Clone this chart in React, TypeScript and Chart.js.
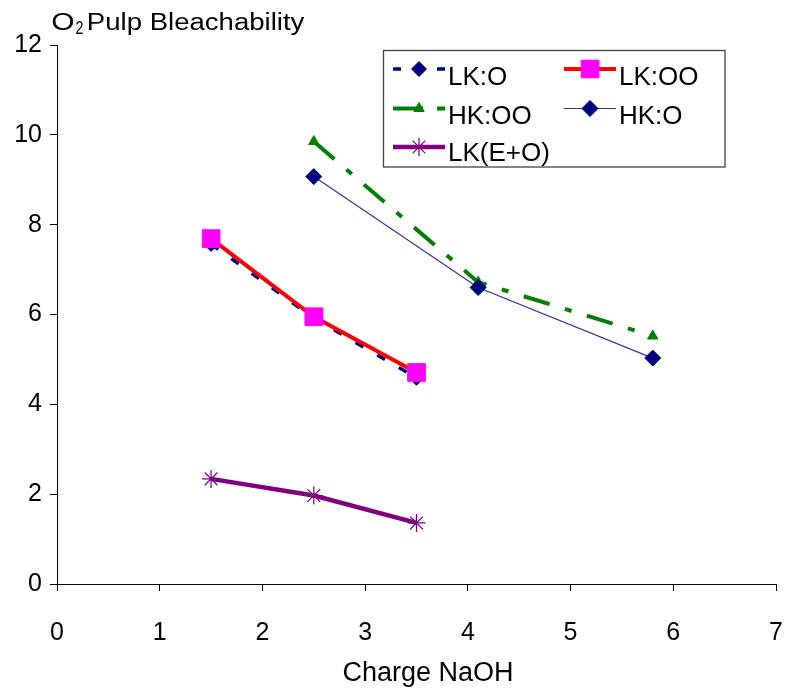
import React, { useEffect, useRef } from 'react';
import { Chart, registerables } from 'chart.js';

Chart.register(...registerables);

const FONT = "'Liberation Sans', Arial, Helvetica, sans-serif";

// ---- data ----
const xLK = [1.5, 2.5, 3.5];
const xHK = [2.5, 4.1, 5.8];
const lkO = [7.57, 5.92, 4.59];
const lkOO = [7.69, 5.95, 4.71];
const hkOO = [9.85, 6.72, 5.52];
const hkO = [9.07, 6.6, 5.03];
const lkEO = [2.34, 1.97, 1.36];
const seriesLabels = ['LK:O', 'LK:OO', 'HK:OO', 'HK:O', 'LK(E+O)'];
const xTicks = [0, 1, 2, 3, 4, 5, 6, 7];
const yTicks = [0, 2, 4, 6, 8, 10, 12];
const titleMain = 'O';
const titleSub = '2';
const titleRest = 'Pulp Bleachability';
const xTitle = 'Charge NaOH';

const pts = (xs: number[], ys: number[]) => xs.map((x, i) => ({ x, y: ys[i] }));

function drawMarker(ctx: CanvasRenderingContext2D, style: string, x: number, y: number, r: number, fill: string, stroke: string, lw: number) {
  ctx.save();
  ctx.fillStyle = fill;
  ctx.strokeStyle = stroke;
  ctx.lineWidth = lw;
  ctx.setLineDash([]);
  ctx.beginPath();
  if (style === 'rectRot') {
    ctx.moveTo(x - r, y);
    ctx.lineTo(x, y - r);
    ctx.lineTo(x + r, y);
    ctx.lineTo(x, y + r);
    ctx.closePath();
    ctx.fill();
    ctx.stroke();
  } else if (style === 'rect') {
    const s = r * Math.SQRT1_2;
    ctx.rect(x - s, y - s, 2 * s, 2 * s);
    ctx.fill();
    ctx.stroke();
  } else if (style === 'triangle') {
    let rad = 0;
    ctx.moveTo(x + Math.sin(rad) * r, y - Math.cos(rad) * r);
    rad += (2 * Math.PI) / 3;
    ctx.lineTo(x + Math.sin(rad) * r, y - Math.cos(rad) * r);
    rad += (2 * Math.PI) / 3;
    ctx.lineTo(x + Math.sin(rad) * r, y - Math.cos(rad) * r);
    ctx.closePath();
    ctx.fill();
    ctx.stroke();
  } else if (style === 'star') {
    for (let k = 0; k < 4; k++) {
      const a = (k * Math.PI) / 4;
      ctx.moveTo(x - Math.cos(a) * r, y - Math.sin(a) * r);
      ctx.lineTo(x + Math.cos(a) * r, y + Math.sin(a) * r);
    }
    ctx.stroke();
  }
  ctx.restore();
}

function fitText(ctx: CanvasRenderingContext2D, text: string, left: number, right: number, baseline: number) {
  const m = ctx.measureText(text);
  const w = m.actualBoundingBoxLeft + m.actualBoundingBoxRight;
  const sx = (right - left) / w;
  ctx.save();
  ctx.translate(left, baseline);
  ctx.scale(sx, 1);
  ctx.textAlign = 'left';
  ctx.textBaseline = 'alphabetic';
  ctx.fillText(text, m.actualBoundingBoxLeft, 0);
  ctx.restore();
}

const AREA_RIGHT = 776;

const areaPlugin = {
  id: 'areaPlugin',
  afterLayout(chart: any) {
    const xs = chart.scales.x;
    const ca = chart.chartArea;
    ca.right = AREA_RIGHT;
    ca.width = AREA_RIGHT - ca.left;
    xs.right = AREA_RIGHT;
    xs.width = AREA_RIGHT - xs.left;
    xs.configure();
  },
};

const titlePlugin = {
  id: 'titlePlugin',
  afterDraw(chart: any) {
    const ctx = chart.ctx as CanvasRenderingContext2D;
    ctx.save();
    ctx.fillStyle = '#000';
    ctx.font = `23px ${FONT}`;
    fitText(ctx, titleMain, 52.5, 73.3, 29.5);
    fitText(ctx, titleRest, 88, 305, 29.5);
    ctx.font = `19px ${FONT}`;
    fitText(ctx, titleSub, 75.5, 83, 33.5);
    ctx.font = `27px ${FONT}`;
    ctx.textAlign = 'center';
    ctx.textBaseline = 'alphabetic';
    ctx.fillText(xTitle, 428, 680.5);
    ctx.restore();
  },
};

const legendPlugin = {
  id: 'customLegend',
  afterDraw(chart: any) {
    const ctx = chart.ctx as CanvasRenderingContext2D;
    const box = { l: 383.5, t: 50.5, r: 725, b: 167 };
    ctx.save();
    ctx.fillStyle = '#fff';
    ctx.fillRect(box.l, box.t, box.r - box.l, box.b - box.t);
    ctx.strokeStyle = '#444';
    ctx.lineWidth = 1.3;
    ctx.strokeRect(box.l, box.t, box.r - box.l, box.b - box.t);
    const colX = [393, 564];
    const rowY = [69, 108.5, 147];
    const textBase = [85, 123.5, 160.5];
    const sampleLen = 52;
    chart.data.datasets.forEach((ds: any, i: number) => {
      const col = i % 2;
      const row = Math.floor(i / 2);
      const x0 = colX[col];
      const y = rowY[row];
      ctx.save();
      ctx.strokeStyle = ds.borderColor;
      ctx.lineWidth = ds.borderWidth;
      ctx.setLineDash(ds.legendDash || []);
      ctx.beginPath();
      ctx.moveTo(x0, y);
      ctx.lineTo(x0 + sampleLen, y);
      ctx.stroke();
      ctx.restore();
      drawMarker(ctx, ds.pointStyle, x0 + sampleLen / 2, y, ds.pointRadius, ds.pointBackgroundColor, ds.pointBorderColor, ds.pointBorderWidth);
      ctx.fillStyle = '#000';
      ctx.font = `26px ${FONT}`;
      ctx.textAlign = 'left';
      ctx.textBaseline = 'alphabetic';
      ctx.fillText(ds.label, x0 + sampleLen + 3, textBase[row]);
    });
    ctx.restore();
  },
};

export default function App() {
  const ref = useRef<HTMLCanvasElement>(null);
  useEffect(() => {
    const canvas = ref.current!;
    const chart = new Chart(canvas, {
      type: 'line',
      data: {
        datasets: [
          {
            label: seriesLabels[0],
            data: pts(xLK, lkO),
            borderColor: '#000080',
            borderWidth: 3.5,
            borderDash: [9, 16],
            legendDash: [8, 14],
            pointStyle: 'rectRot',
            pointRadius: 7.5,
            pointBackgroundColor: '#000080',
            pointBorderColor: '#000080',
            pointBorderWidth: 1,
            order: 5,
          } as any,
          {
            label: seriesLabels[1],
            data: pts(xLK, lkOO),
            borderColor: '#FF0000',
            borderWidth: 4,
            pointStyle: 'rect',
            pointRadius: 12.5,
            pointBackgroundColor: '#FF00FF',
            pointBorderColor: '#FF00FF',
            pointBorderWidth: 1,
            order: 4,
          } as any,
          {
            label: seriesLabels[2],
            data: pts(xHK, hkOO),
            borderColor: '#008000',
            borderWidth: 4,
            borderDash: [27, 16, 7, 16],
            legendDash: [30, 14, 8, 14],
            pointStyle: 'triangle',
            pointRadius: 6,
            pointBackgroundColor: '#008000',
            pointBorderColor: '#008000',
            pointBorderWidth: 1,
            order: 3,
          } as any,
          {
            label: seriesLabels[3],
            data: pts(xHK, hkO),
            borderColor: '#333399',
            borderWidth: 1.2,
            pointStyle: 'rectRot',
            pointRadius: 8,
            pointBackgroundColor: '#000080',
            pointBorderColor: '#000080',
            pointBorderWidth: 1,
            order: 2,
          } as any,
          {
            label: seriesLabels[4],
            data: pts(xLK, lkEO),
            borderColor: '#800080',
            borderWidth: 4.5,
            pointStyle: 'star',
            pointRadius: 9,
            pointBackgroundColor: '#800080',
            pointBorderColor: '#800080',
            pointBorderWidth: 1.2,
            order: 1,
          } as any,
        ],
      },
      options: {
        responsive: false,
        animation: false,
        devicePixelRatio: 1,
        layout: { padding: { top: 45, right: 7, left: 0, bottom: 0 } },
        elements: { line: { tension: 0, fill: false } },
        plugins: { legend: { display: false }, tooltip: { enabled: false }, title: { display: false } },
        scales: {
          x: {
            type: 'linear',
            min: 0,
            max: 7,
            afterBuildTicks: (s: any) => {
              s.ticks = xTicks.map((v) => ({ value: v }));
            },
            ticks: { font: { family: FONT, size: 25 }, color: '#000', padding: 27, maxRotation: 0, autoSkip: false },
            grid: { drawOnChartArea: false, drawTicks: true, tickLength: 7, color: '#000', lineWidth: 1 },
            border: { display: true, color: '#000', width: 1 },
            title: { display: false },
            afterFit: (s: any) => {
              s.height = 106;
              s.paddingLeft = 0;
              s.paddingRight = 0;
            },
          },
          y: {
            type: 'linear',
            min: 0,
            max: 12,
            afterBuildTicks: (s: any) => {
              s.ticks = yTicks.map((v) => ({ value: v }));
            },
            ticks: { font: { family: FONT, size: 25 }, color: '#000', padding: 8 },
            grid: { drawOnChartArea: false, drawTicks: true, tickLength: 7, color: '#000', lineWidth: 1 },
            border: { display: true, color: '#000', width: 1 },
            afterFit: (s: any) => {
              s.width = 57;
              s.paddingTop = 0;
              s.paddingBottom = 0;
            },
          },
        },
      } as any,
      plugins: [areaPlugin, titlePlugin, legendPlugin],
    });
    return () => chart.destroy();
  }, []);
  return (
    <div style={{ position: 'absolute', left: 0, top: 0, width: 787, height: 690, background: '#fff' }}>
      <canvas ref={ref} width={787} height={690} style={{ width: 787, height: 690, display: 'block' }} />
    </div>
  );
}
